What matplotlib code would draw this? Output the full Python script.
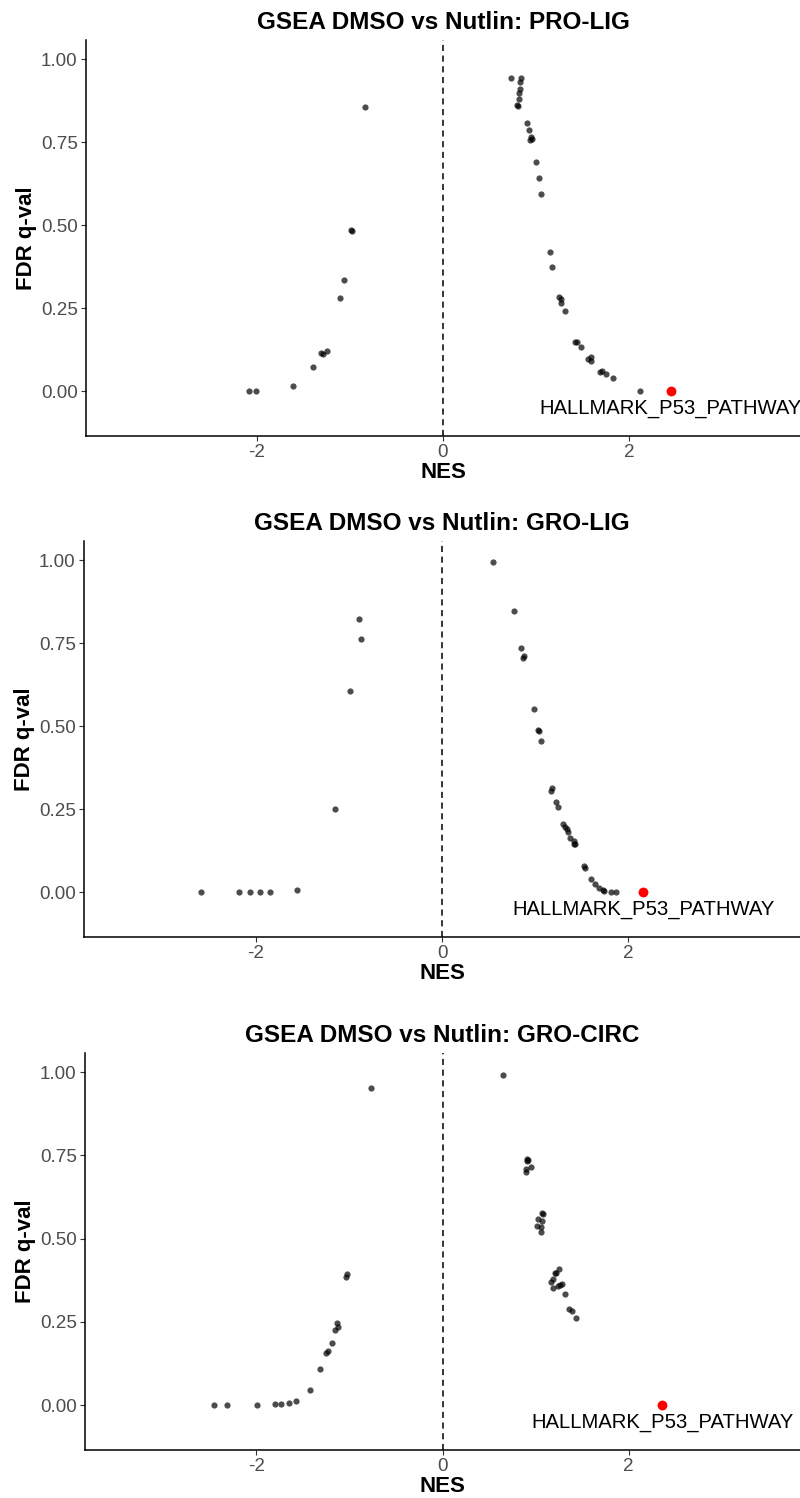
import matplotlib
matplotlib.use("Agg")
from matplotlib import pyplot as plt

# GSEA results
# -1- PRO-LIG
pro_nes = [-0.84, -0.99, -0.98, -1.06, -1.11, -1.31, -1.29, -1.25, -1.40, -1.61, -2.09, -2.01,
           0.73, 0.835, 0.828, 0.824, 0.817, 0.814, 0.792, 0.81, 0.903, 0.921, 0.946, 0.96, 0.939,
           1.00, 1.029, 1.057, 1.147, 1.176, 1.244, 1.272, 1.269, 1.315, 1.419, 1.441, 1.48,
           1.556, 1.59, 1.59, 1.69, 1.713, 1.756, 1.824, 2.12]
pro_fdr = [0.855, 0.486, 0.483, 0.334, 0.281, 0.115, 0.111, 0.12, 0.072, 0.016, 0.0, 0.0,
           0.945, 0.945, 0.93, 0.909, 0.898, 0.88, 0.861, 0.86, 0.808, 0.786, 0.766, 0.76, 0.757,
           0.689, 0.643, 0.593, 0.418, 0.374, 0.285, 0.278, 0.267, 0.241, 0.149, 0.149, 0.132,
           0.098, 0.103, 0.091, 0.058, 0.062, 0.053, 0.039, 0.0]
pro_p53 = (2.448, 0.0)

# -2- GRO-LIG
gro_nes = [-0.885, -0.874, -0.982, -1.15, -2.584, -2.18, -2.06, -1.95, -1.85, -1.55,
           0.552, 0.767, 0.849, 0.878, 0.871, 0.982, 1.032, 1.036, 1.061, 1.175, 1.169,
           1.218, 1.244, 1.294, 1.315, 1.337, 1.355, 1.376, 1.419, 1.427, 1.416,
           1.527, 1.53, 1.599, 1.645, 1.681, 1.728, 1.739, 1.81, 1.863]
gro_fdr = [0.823, 0.764, 0.606, 0.25, 0.0, 0.0, 0.0, 0.0, 0.0, 0.008,
           0.996, 0.846, 0.736, 0.711, 0.707, 0.553, 0.489, 0.486, 0.456, 0.313, 0.304,
           0.273, 0.258, 0.205, 0.195, 0.189, 0.181, 0.162, 0.153, 0.146, 0.144,
           0.078, 0.073, 0.041, 0.024, 0.014, 0.008, 0.005, 0.0, 0.0]
gro_p53 = (2.161, 0.0)

# -3- GRO-CIRC
circ_nes = [-0.763, -1.022, -1.036, -1.133, -1.122, -1.158, -1.19, -1.226, -1.25, -1.312,
            -1.423, -1.573, -1.648, -1.735, -1.796, -1.997, -2.315, -2.459,
            0.653, 0.91, 0.921, 0.903, 0.946, 0.9, 0.892, 1.065, 1.083, 1.022, 1.065,
            1.014, 1.057, 1.054, 1.255, 1.204, 1.219, 1.186, 1.168, 1.287, 1.261, 1.24,
            1.186, 1.319, 1.355, 1.39, 1.437]
circ_fdr = [0.954, 0.394, 0.386, 0.248, 0.234, 0.225, 0.187, 0.163, 0.156, 0.107,
            0.045, 0.012, 0.007, 0.003, 0.002, 0.0, 0.0, 0.0,
            0.991, 0.740, 0.737, 0.734, 0.716, 0.709, 0.701, 0.577, 0.575, 0.56, 0.552,
            0.539, 0.535, 0.521, 0.408, 0.396, 0.398, 0.378, 0.369, 0.365, 0.36, 0.357,
            0.352, 0.334, 0.29, 0.284, 0.263]
circ_p53 = (2.362, 0.0)

titles = ["GSEA DMSO vs Nutlin: PRO-LIG",
          "GSEA DMSO vs Nutlin: GRO-LIG",
          "GSEA DMSO vs Nutlin: GRO-CIRC"]
panels = [(pro_nes, pro_fdr, pro_p53),
          (gro_nes, gro_fdr, gro_p53),
          (circ_nes, circ_fdr, circ_p53)]
yticks = [0.0, 0.25, 0.5, 0.75, 1.0]
ylabels = ["0.00", "0.25", "0.50", "0.75", "1.00"]

plt.rcParams['font.family'] = ['Liberation Sans', 'DejaVu Sans']
plt.rcParams['axes.unicode_minus'] = False

W, H = 800, 1498
fig = plt.figure(figsize=(W / 100, H / 100), dpi=100)

# axes boxes in pixels: left, top, right, bottom
boxes = [(86, 40, 800, 436), (84, 541, 800, 937), (85, 1053, 800, 1450)]

for (l, t, r, b), title, (nes, fdr, p53) in zip(boxes, titles, panels):
    ax = fig.add_axes([l / W, 1 - b / H, (r - l) / W, (b - t) / H])
    ax.axvline(0, color='black', lw=1.1, ls=(0, (4, 3)), zorder=1)
    ax.scatter(nes, fdr, s=20, color='black', alpha=0.7, linewidths=0, zorder=2)
    ax.scatter([p53[0]], [p53[1]], s=50, color='red', linewidths=0, zorder=3)
    ax.annotate("HALLMARK_P53_PATHWAY", xy=p53, xytext=(0, -23),
                textcoords='offset pixels', ha='center', va='baseline',
                fontsize=14.6, color='black', annotation_clip=False)
    ax.set_xlim(-3.84, 3.84)
    ax.set_ylim(-0.135, 1.058)
    ax.set_xticks([-2, 0, 2])
    ax.set_yticks(yticks)
    ax.set_yticklabels(ylabels)
    for s in ['top', 'right']:
        ax.spines[s].set_visible(False)
    for s in ['left', 'bottom']:
        ax.spines[s].set_linewidth(1.1)
    ax.tick_params(length=3.5, width=0.8, color='#333333', labelcolor='#4D4D4D',
                   labelsize=13.6, pad=2.5)
    ax.set_title(title, fontsize=17.5, fontweight='bold', pad=8)
    ax.set_xlabel("NES", fontsize=16, fontweight='bold', labelpad=0.5)
    ax.set_ylabel("FDR q-val", fontsize=16, fontweight='bold', labelpad=2.5)

fig.savefig("out.png", dpi=100)
